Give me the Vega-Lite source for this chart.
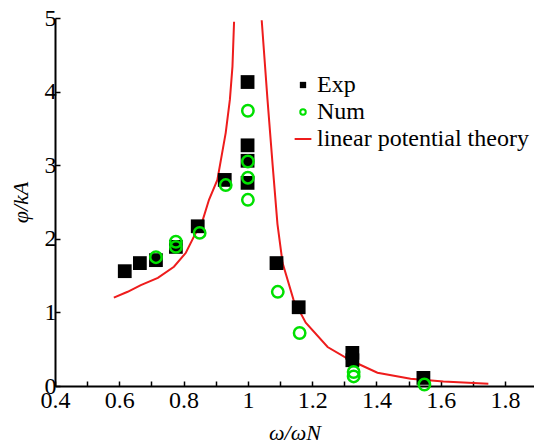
{
  "$schema": "https://vega.github.io/schema/vega-lite/v6.json",
  "width": 479,
  "height": 368,
  "autosize": {"type": "none"},
  "padding": {"left": 55, "top": 18, "right": 0, "bottom": 60},
  "background": "white",
  "config": {
    "view": {"stroke": null},
    "font": "Liberation Serif"
  },
  "datasets": {
    "exp": [
      {"w": 0.617, "phi": 1.56}, {"w": 0.664, "phi": 1.67}, {"w": 0.714, "phi": 1.71},
      {"w": 0.776, "phi": 1.89}, {"w": 0.844, "phi": 2.17}, {"w": 0.928, "phi": 2.80},
      {"w": 0.999, "phi": 4.13}, {"w": 0.999, "phi": 3.27}, {"w": 0.999, "phi": 3.06},
      {"w": 0.999, "phi": 2.76}, {"w": 1.089, "phi": 1.67}, {"w": 1.158, "phi": 1.07},
      {"w": 1.325, "phi": 0.45}, {"w": 1.325, "phi": 0.35}, {"w": 1.546, "phi": 0.11}
    ],
    "num": [
      {"w": 0.714, "phi": 1.75}, {"w": 0.776, "phi": 1.96}, {"w": 0.776, "phi": 1.89},
      {"w": 0.85, "phi": 2.08}, {"w": 0.931, "phi": 2.73}, {"w": 1.0, "phi": 3.74},
      {"w": 1.0, "phi": 3.05}, {"w": 1.0, "phi": 2.83}, {"w": 1.0, "phi": 2.53},
      {"w": 1.093, "phi": 1.28}, {"w": 1.161, "phi": 0.72}, {"w": 1.329, "phi": 0.19},
      {"w": 1.329, "phi": 0.13}, {"w": 1.549, "phi": 0.02}
    ],
    "theory": [
      {"b": "L", "w": 0.583, "phi": 1.20}, {"b": "L", "w": 0.626, "phi": 1.28},
      {"b": "L", "w": 0.667, "phi": 1.37}, {"b": "L", "w": 0.72, "phi": 1.47},
      {"b": "L", "w": 0.77, "phi": 1.62}, {"b": "L", "w": 0.807, "phi": 1.81},
      {"b": "L", "w": 0.832, "phi": 2.03}, {"b": "L", "w": 0.86, "phi": 2.26},
      {"b": "L", "w": 0.879, "phi": 2.53}, {"b": "L", "w": 0.905, "phi": 2.8},
      {"b": "L", "w": 0.931, "phi": 3.44}, {"b": "L", "w": 0.944, "phi": 3.89},
      {"b": "L", "w": 0.952, "phi": 4.34}, {"b": "L", "w": 0.957, "phi": 4.95},
      {"b": "R", "w": 1.043, "phi": 4.97}, {"b": "R", "w": 1.061, "phi": 3.89},
      {"b": "R", "w": 1.077, "phi": 3.0}, {"b": "R", "w": 1.092, "phi": 2.2},
      {"b": "R", "w": 1.108, "phi": 1.67}, {"b": "R", "w": 1.142, "phi": 1.17},
      {"b": "R", "w": 1.18, "phi": 0.86}, {"b": "R", "w": 1.248, "phi": 0.53},
      {"b": "R", "w": 1.319, "phi": 0.35}, {"b": "R", "w": 1.403, "phi": 0.18},
      {"b": "R", "w": 1.506, "phi": 0.10}, {"b": "R", "w": 1.608, "phi": 0.06},
      {"b": "R", "w": 1.748, "phi": 0.03}
    ]
  },
  "encoding": {
    "x": {
      "field": "w", "type": "quantitative",
      "scale": {"domain": [0.4, 1.89], "nice": false, "zero": false},
      "axis": {
        "title": "ω/ωN",
        "values": [0.4, 0.5, 0.6, 0.7, 0.8, 0.9, 1.0, 1.1, 1.2, 1.3, 1.4, 1.5, 1.6, 1.7, 1.8],
        "labelExpr": "abs(round(datum.value*10) % 2) == 0 ? (datum.value == 1 ? '1' : format(datum.value, '.1f')) : ''",
        "grid": false,
        "domainColor": "black",
        "domainWidth": 2,
        "tickColor": "black",
        "tickWidth": 1.5,
        "tickSize": -5,
        "labelFont": "Liberation Serif",
        "labelFontSize": 24,
        "labelColor": "black",
        "labelPadding": 7,
        "labelFlush": false,
        "labelOverlap": false,
        "titleFont": "Liberation Serif",
        "titleFontSize": 22,
        "titleFontStyle": "italic",
        "titleFontWeight": "normal",
        "titleColor": "black",
        "titlePadding": 10
      }
    },
    "y": {
      "field": "phi", "type": "quantitative",
      "scale": {"domain": [0, 5], "nice": false},
      "axis": {
        "title": "φ/kA",
        "values": [0, 1, 2, 3, 4, 5],
        "grid": false,
        "domainColor": "black",
        "domainWidth": 2,
        "tickColor": "black",
        "tickWidth": 1.5,
        "tickSize": -5,
        "labelFont": "Liberation Serif",
        "labelFontSize": 24,
        "labelColor": "black",
        "labelPadding": 4,
        "labelFlush": false,
        "labelOverlap": false,
        "titleFont": "Liberation Serif",
        "titleFontSize": 22,
        "titleFontStyle": "italic",
        "titleFontWeight": "normal",
        "titleColor": "black",
        "titlePadding": 12
      }
    },
    "color": {
      "field": "series", "type": "nominal",
      "scale": {"domain": ["Exp", "Num", "linear potential theory"], "range": ["black", "#00e000", "#ee1c1c"]},
      "legend": {
        "title": null,
        "orient": "none",
        "legendX": 236,
        "legendY": 55,
        "padding": 0,
        "labelFont": "Liberation Serif",
        "labelFontSize": 24,
        "labelColor": "black",
        "labelLimit": 400,
        "labelOffset": 2,
        "rowPadding": 3,
        "symbolSize": 300,
        "encode": {
          "symbols": {
            "update": {
              "shape": {"signal": "datum.value === 'Exp' ? 'square' : datum.value === 'Num' ? 'circle' : 'stroke'"},
              "size": {"signal": "datum.value === 'Exp' ? 40 : datum.value === 'Num' ? 30 : 280"},
              "fill": {"signal": "datum.value === 'Exp' ? 'black' : 'white'"},
              "fillOpacity": {"signal": "datum.value === 'Exp' ? 1 : 0"},
              "stroke": {"signal": "datum.value === 'Exp' ? 'black' : datum.value === 'Num' ? '#00e000' : '#ee1c1c'"},
              "strokeWidth": {"signal": "datum.value === 'Exp' ? 0 : 2"}
            }
          }
        }
      }
    }
  },
  "layer": [
    {
      "data": {"name": "theory"},
      "transform": [{"calculate": "'linear potential theory'", "as": "series"}],
      "mark": {"type": "line", "strokeWidth": 2, "clip": true},
      "encoding": {"detail": {"field": "b"}, "order": {"field": "w"}}
    },
    {
      "data": {"name": "exp"},
      "transform": [{"calculate": "'Exp'", "as": "series"}],
      "mark": {"type": "point", "shape": "square", "filled": true, "size": 190, "opacity": 1}
    },
    {
      "data": {"name": "num"},
      "transform": [{"calculate": "'Num'", "as": "series"}],
      "mark": {"type": "point", "shape": "circle", "filled": false, "size": 130, "strokeWidth": 2.5, "opacity": 1}
    },
    {
      "mark": {"type": "rule", "color": "black", "strokeWidth": 2},
      "encoding": {"y": {"datum": 5}, "x": null, "color": null}
    }
  ]
}
